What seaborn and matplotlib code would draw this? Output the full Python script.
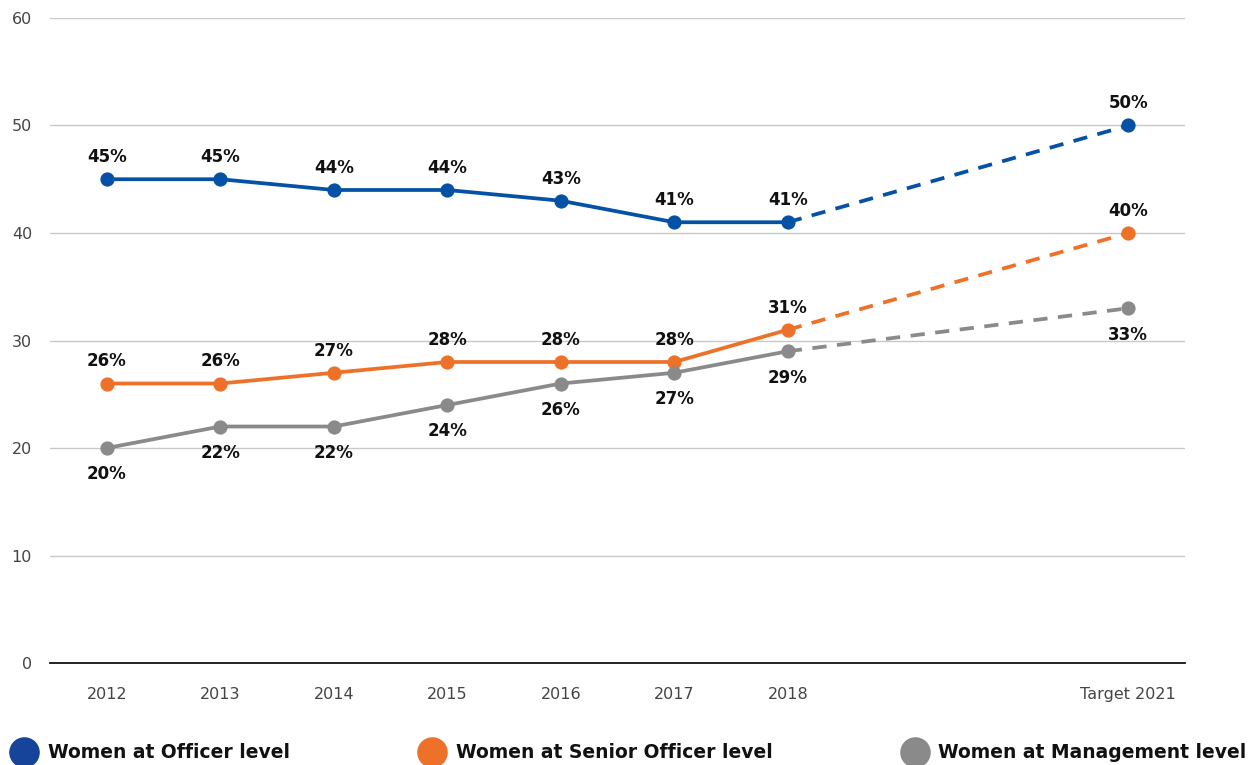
import numpy as np
import pandas as pd
import matplotlib.pyplot as plt
from matplotlib.lines import Line2D
import seaborn as sns

# ── Data ──────────────────────────────────────────────────────────────────────
YEARS       = [2012, 2013, 2014, 2015, 2016, 2017, 2018]
TARGET_YEAR = 2021
TICK_LABELS = ["2012", "2013", "2014", "2015", "2016", "2017", "2018", "Target 2021"]

officer    = [45, 45, 44, 44, 43, 41, 41]
senior     = [26, 26, 27, 28, 28, 28, 31]
management = [20, 22, 22, 24, 26, 27, 29]

targets = {"officer": 50, "senior": 40, "management": 33}

SERIES = ["officer", "senior", "management"]
LABELS = {
    "officer": "Women at Officer level",
    "senior": "Women at Senior Officer level",
    "management": "Women at Management level",
}
COLORS = {"officer": "#0451A5", "senior": "#EE7129", "management": "#8A8A8A"}
LEGEND_COLORS = {"officer": "#16449A", "senior": "#EE7129", "management": "#8A8A8A"}
# label above (+) or below (-) the point
LABEL_SIDE = {"officer": 1, "senior": 1, "management": -1}

values = {"officer": officer, "senior": senior, "management": management}

# ── Long-format frames ────────────────────────────────────────────────────────
actual = pd.DataFrame([
    {"year": y, "value": v, "series": s}
    for s in SERIES for y, v in zip(YEARS, values[s])
])
projection = pd.DataFrame([
    {"year": yr, "value": v, "series": s}
    for s in SERIES
    for yr, v in [(YEARS[-1], values[s][-1]), (TARGET_YEAR, targets[s])]
])

# ── Plot ──────────────────────────────────────────────────────────────────────
sns.set_style("white")
plt.rcParams["font.family"] = ["DejaVu Sans"]

fig = plt.figure(figsize=(12.54, 7.65), dpi=100)
ax = fig.add_axes([0.040, 0.1333, 0.905, 0.8432])

for s in SERIES:
    sns.lineplot(data=projection[projection.series == s], x="year", y="value",
                 color=COLORS[s], lw=2.7, ax=ax, legend=False,
                 dashes=False, linestyle=(0, (3.8, 2.8)), zorder=2)
    sns.lineplot(data=actual[actual.series == s], x="year", y="value",
                 color=COLORS[s], lw=2.7, ax=ax, legend=False, zorder=3)
    xs = YEARS + [TARGET_YEAR]
    ys = values[s] + [targets[s]]
    ax.scatter(xs, ys, s=105, color=COLORS[s], zorder=4, linewidths=0)
    for x, y in zip(xs, ys):
        off = 16 if LABEL_SIDE[s] > 0 else -19
        ax.annotate(f"{y}%", (x, y), xytext=(0, off), textcoords="offset points",
                    ha="center", va="center", fontsize=12, fontweight="bold",
                    color="#111111")

ax.set_xlim(2011.5, 2021.5)
ax.set_ylim(0, 60)
ax.set_yticks(np.arange(0, 61, 10))
ax.set_xticks(YEARS + [TARGET_YEAR])
ax.set_xticklabels(TICK_LABELS)
ax.set_xlabel("")
ax.set_ylabel("")
ax.tick_params(axis="both", length=0, labelsize=11.5, labelcolor="#444444")
ax.tick_params(axis="x", pad=17)
ax.tick_params(axis="y", pad=13)

ax.grid(axis="y", color="#c8c8c8", lw=1)
ax.set_axisbelow(True)
for side in ["top", "right", "left"]:
    ax.spines[side].set_visible(False)
ax.spines["bottom"].set_color("#111111")
ax.spines["bottom"].set_linewidth(1.3)

handles = [Line2D([], [], marker="o", linestyle="", markersize=21,
                  color=LEGEND_COLORS[s], label=LABELS[s]) for s in SERIES]
leg = fig.legend(handles=handles, loc="lower left", ncol=3, mode="expand",
                 bbox_to_anchor=(0.006, -0.006, 0.994, 0.05), frameon=False,
                 handlelength=1.0, handletextpad=0.75, borderaxespad=0,
                 prop={"weight": "heavy", "size": 13.5})
for t in leg.get_texts():
    t.set_color("#111111")

plt.savefig("out.png", dpi=100)
